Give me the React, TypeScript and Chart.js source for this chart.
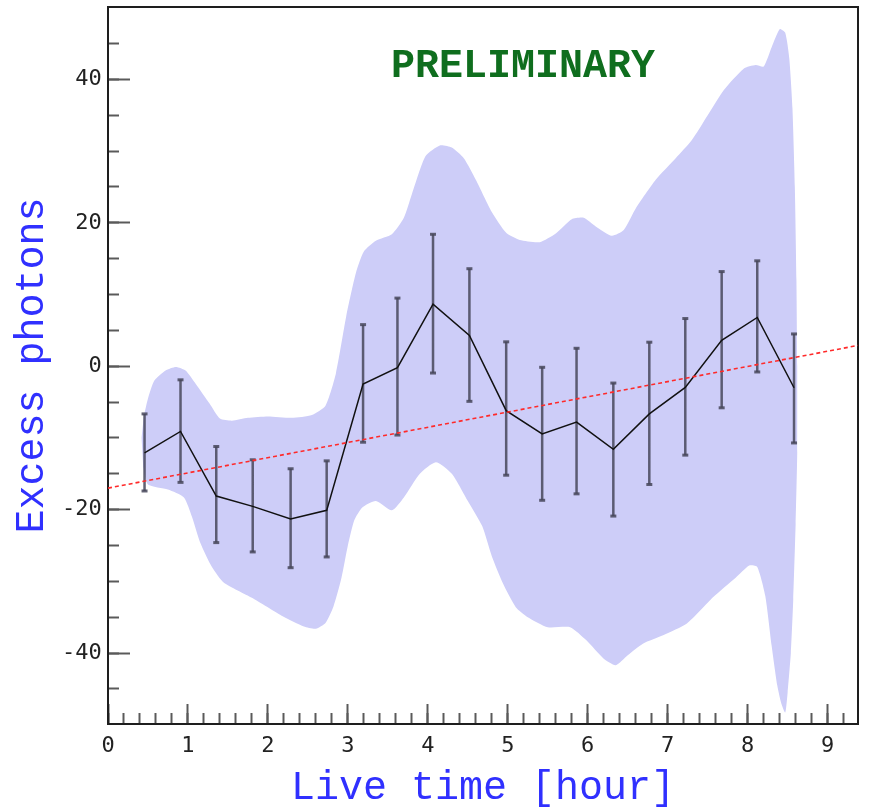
import React, { useEffect, useRef } from 'react';
import { Chart, registerables } from 'chart.js';

Chart.register(...registerables);

// ---- data ----
const hours = [0.457, 0.907, 1.354, 1.81, 2.284, 2.735, 3.19, 3.62, 4.065, 4.52, 4.98, 5.43, 5.86, 6.32, 6.77, 7.22, 7.675, 8.12, 8.58];
const excess = [-12.1, -9.1, -18.1, -19.55, -21.3, -20.1, -2.5, -0.2, 8.65, 4.3, -6.2, -9.45, -7.8, -11.6, -6.65, -2.95, 3.6, 6.8, -3.0];
const errHigh = [5.45, 7.2, 6.9, 6.5, 7.0, 6.9, 8.3, 9.7, 9.75, 9.3, 9.6, 9.3, 10.3, 9.25, 10.0, 9.6, 9.6, 7.9, 7.5];
const errLow = [5.3, 7.1, 6.5, 6.35, 6.8, 6.5, 8.1, 9.4, 9.6, 9.2, 9.0, 9.25, 10.0, 9.3, 9.85, 9.45, 9.4, 7.6, 7.7];

// envelope band: upper edge left->right, lower edge right->left
const bandUpperX = [0.42, 0.45, 0.5, 0.58, 0.72, 0.85, 0.97, 1.1, 1.27, 1.4, 1.55, 1.75, 2.0, 2.3, 2.55, 2.72, 2.85, 2.98, 3.1, 3.2, 3.35, 3.55, 3.7, 3.8, 3.97, 4.15, 4.3, 4.45, 4.6, 4.8, 4.98, 5.15, 5.4, 5.6, 5.8, 5.95, 6.1, 6.3, 6.45, 6.6, 6.85, 7.1, 7.3, 7.5, 7.7, 7.95, 8.1, 8.2, 8.3, 8.4, 8.47, 8.52, 8.56, 8.59, 8.61, 8.62];
const bandUpperY = [-10, -7, -4.5, -2, -0.6, -0.1, -0.6, -2.5, -5.2, -7.3, -7.6, -7.2, -7.0, -7.2, -6.8, -5.5, -1, 7, 13, 16, 17.5, 18.4, 20.7, 24, 29.3, 30.8, 30.5, 29, 26, 21.5, 18.6, 17.6, 17.3, 18.5, 20.5, 20.7, 19.5, 18.2, 19, 22, 26, 29, 31.5, 35, 38.5, 41.5, 42, 41.8, 44.5, 47, 46.5, 43, 36, 25, 12, 0];
const bandLowerX = [8.62, 8.6, 8.57, 8.54, 8.5, 8.47, 8.42, 8.37, 8.3, 8.22, 8.12, 8.02, 7.85, 7.57, 7.24, 6.95, 6.69, 6.5, 6.35, 6.2, 5.98, 5.78, 5.5, 5.25, 5.1, 4.94, 4.8, 4.68, 4.5, 4.3, 4.1, 3.9, 3.7, 3.55, 3.35, 3.18, 3.08, 3.0, 2.92, 2.82, 2.72, 2.6, 2.45, 2.19, 1.8, 1.45, 1.3, 1.15, 1.05, 0.95, 0.75, 0.5, 0.44];
const bandLowerY = [-12, -22, -32.6, -40, -45.5, -48.3, -47, -44.5, -39, -32, -28, -27.8, -29.5, -32.2, -35.9, -37.5, -38.7, -40.3, -41.7, -40.8, -38.2, -36.4, -36.4, -35, -33.6, -30.3, -26.5, -22.3, -18.8, -15, -13.4, -15, -18.3, -20.1, -18.8, -19.7, -21.5, -25, -29.5, -33.5, -35.8, -36.6, -36.3, -34.9, -32.3, -30.2, -28, -24.5, -21, -18.3, -17.2, -16.5, -14];

// linear fit (dashed red) endpoints
const fitX = [0, 9.38];
const fitY = [-17.0, 2.9];

// axes
const X_MIN = 0;
const X_MAX = 9.38;
const Y_MIN = -49.9;
const Y_MAX = 50.1;
const xMajorTicks = [0, 1, 2, 3, 4, 5, 6, 7, 8, 9];
const xMinorTicks = Array.from({ length: 47 }, (_, i) => Math.round(i * 2) / 10);
const yMajorTicks = [-40, -20, 0, 20, 40];
const yMinorTicks = [-45, -40, -35, -30, -25, -20, -15, -10, -5, 0, 5, 10, 15, 20, 25, 30, 35, 40, 45];

const xTitle = 'Live time [hour]';
const yTitle = 'Excess photons';
const stamp = 'PRELIMINARY';
const stampX = 5.19;
const stampY = 40.3;

const MONO = '"Liberation Mono", "Courier New", monospace';
const TICKFONT = '"DejaVu Sans Mono", monospace';

const stampPlugin = {
  id: 'stamp',
  afterDatasetsDraw(chart: any) {
    const { ctx, scales } = chart;
    ctx.save();
    ctx.font = `bold 40px ${MONO}`;
    ctx.fillStyle = '#0f6e1e';
    ctx.textAlign = 'center';
    ctx.textBaseline = 'alphabetic';
    ctx.fillText(stamp, scales.x.getPixelForValue(stampX), scales.y.getPixelForValue(stampY));
    ctx.restore();
  },
};

const noPad = (s: any) => {
  s.paddingTop = 0;
  s.paddingBottom = 0;
  s.paddingLeft = 0;
  s.paddingRight = 0;
};

export default function App() {
  const ref = useRef<HTMLCanvasElement>(null);
  useEffect(() => {
    if (!ref.current) return;
    const band = [
      ...bandUpperX.map((x, i) => ({ x, y: bandUpperY[i] })),
      ...bandLowerX.map((x, i) => ({ x, y: bandLowerY[i] })),
    ];
    const errPts: any[] = [];
    hours.forEach((h, i) => {
      errPts.push({ x: h, y: excess[i] - errLow[i] });
      errPts.push({ x: h, y: excess[i] + errHigh[i] });
      errPts.push({ x: h, y: null });
    });
    const mainPts = hours.map((h, i) => ({ x: h, y: excess[i] }));
    const fitPts = fitX.map((x, i) => ({ x, y: fitY[i] }));

    // axis used only to draw inward tick marks (no labels, zero size)
    const tickAxis = (axis: string, position: string, ticks: number[], len: number, weight: number) => ({
      type: 'linear',
      axis,
      position,
      min: axis === 'x' ? X_MIN : Y_MIN,
      max: axis === 'x' ? X_MAX : Y_MAX,
      weight,
      afterBuildTicks: (s: any) => {
        s.ticks = ticks.map((v) => ({ value: v }));
      },
      afterFit: (s: any) => {
        if (axis === 'x') s.height = 0;
        else s.width = 0;
        noPad(s);
      },
      ticks: { display: false, autoSkip: false, padding: 0 },
      grid: {
        display: true,
        drawOnChartArea: false,
        drawTicks: true,
        tickLength: -len,
        tickWidth: 2,
        tickColor: '#5a5a5a',
      },
      border: { display: false },
    });

    const boxAxis = (axis: string, position: string) => ({
      type: 'linear',
      axis,
      position,
      min: axis === 'x' ? X_MIN : Y_MIN,
      max: axis === 'x' ? X_MAX : Y_MAX,
      afterFit: (s: any) => {
        if (axis === 'x') s.height = 0;
        else s.width = 0;
        noPad(s);
      },
      ticks: { display: false, padding: 0 },
      grid: { display: true, drawOnChartArea: false, drawTicks: false },
      border: { display: true, color: '#1e1e1e', width: 2 },
    });

    const chart = new Chart(ref.current, {
      type: 'scatter',
      data: {
        datasets: [
          {
            data: band,
            order: 10,
            showLine: true,
            fill: 'shape',
            backgroundColor: '#cdcdf8',
            borderWidth: 0,
            borderColor: 'rgba(0,0,0,0)',
            pointRadius: 0,
            tension: 0.2,
          } as any,
          {
            data: errPts,
            order: 3,
            showLine: true,
            spanGaps: false,
            borderColor: 'rgba(70,70,90,0.85)',
            borderWidth: 2.5,
            pointStyle: 'line',
            pointRadius: 3,
            pointBorderWidth: 3,
            pointBorderColor: 'rgba(70,70,90,0.85)',
            pointBackgroundColor: 'rgba(70,70,90,0.85)',
          },
          {
            data: mainPts,
            order: 2,
            showLine: true,
            borderColor: '#111111',
            borderWidth: 1.5,
            pointRadius: 0,
            tension: 0,
          },
          {
            data: fitPts,
            order: 1,
            showLine: true,
            borderColor: '#ff2a2a',
            borderWidth: 1.6,
            borderDash: [4, 3],
            pointRadius: 0,
          },
        ],
      },
      options: {
        animation: false,
        responsive: false,
        events: [],
        layout: { padding: { left: 0, top: 5, right: 12, bottom: 0 } },
        plugins: { legend: { display: false }, tooltip: { enabled: false } },
        scales: {
          x: {
            type: 'linear',
            axis: 'x',
            position: 'bottom',
            min: X_MIN,
            max: X_MAX,
            weight: 2,
            afterBuildTicks: (s: any) => {
              s.ticks = xMajorTicks.map((v) => ({ value: v }));
            },
            afterFit: (s: any) => { s.height = 83; noPad(s); },
            grid: { display: true, drawOnChartArea: false, drawTicks: false },
            border: { display: true, color: '#1e1e1e', width: 2 },
            ticks: {
              padding: 9.3,
              color: '#222',
              font: { family: TICKFONT, size: 22 },
              callback: (v: any) => String(v),
              maxRotation: 0,
              autoSkip: false,
            },
            title: {
              display: true,
              text: xTitle,
              color: '#3030ff',
              font: { family: MONO, size: 40 },
              padding: { top: 0, bottom: -5 },
            },
          },
          xMajor: tickAxis('x', 'bottom', xMajorTicks, 20, 0),
          xMinor: tickAxis('x', 'bottom', xMinorTicks, 11, 0),
          xTop: boxAxis('x', 'top'),
          y: {
            type: 'linear',
            axis: 'y',
            position: 'left',
            min: Y_MIN,
            max: Y_MAX,
            weight: 2,
            afterBuildTicks: (s: any) => {
              s.ticks = yMajorTicks.map((v) => ({ value: v }));
            },
            afterFit: (s: any) => { s.width = 108; noPad(s); },
            grid: { display: true, drawOnChartArea: false, drawTicks: false },
            border: { display: true, color: '#1e1e1e', width: 2 },
            ticks: {
              padding: 6.3,
              color: '#222',
              font: { family: TICKFONT, size: 22 },
              callback: (v: any) => String(v),
              autoSkip: false,
            },
            title: {
              display: true,
              text: yTitle,
              color: '#3030ff',
              font: { family: MONO, size: 40 },
              padding: { top: 8, bottom: 0 },
            },
          },
          yMajor: tickAxis('y', 'left', yMajorTicks, 22, 0),
          yMinor: tickAxis('y', 'left', yMinorTicks, 11, 0),
          yRight: boxAxis('y', 'right'),
        },
      } as any,
      plugins: [stampPlugin],
    });
    return () => chart.destroy();
  }, []);

  return (
    <div style={{ position: 'absolute', left: 0, top: 0, width: 870, height: 807, background: '#fff' }}>
      <canvas ref={ref} width={870} height={807} style={{ display: 'block' }} />
    </div>
  );
}
